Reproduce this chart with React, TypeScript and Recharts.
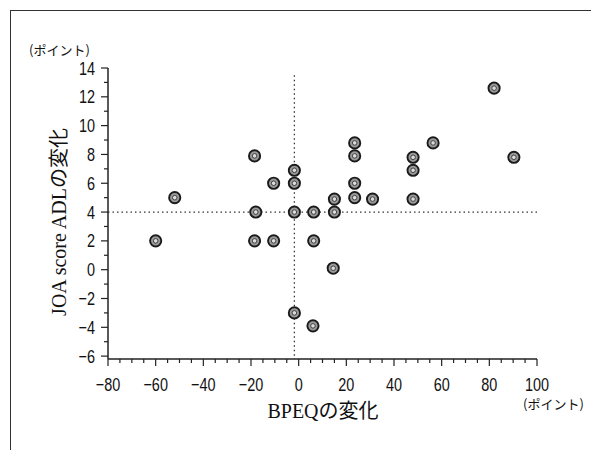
import { ScatterChart, Scatter, XAxis, YAxis, ReferenceLine } from 'recharts';

// BPEQ change (x) vs JOA score ADL change (y), one entry per patient
const bpeqChange = [
  -60, -52, -18.5, -18, -18.5, -10.5, -10.5, -1.8, -1.8, -1.8, -1.8,
  6.3, 6.3, 6, 14.5, 15, 15, 23.5, 23.5, 23.5, 23.5, 31, 48, 48, 48, 56.4, 82, 90.3,
];
const joaChange = [
  2, 5, 7.9, 4, 2, 6, 2, 6.9, 6, 4, -3,
  4, 2, -3.9, 0.1, 4, 4.9, 8.8, 7.9, 6, 5, 4.9, 7.8, 6.9, 4.9, 8.8, 12.6, 7.8,
];
const xTicks = [-80, -75, -70, -65, -60, -55, -50, -45, -40, -35, -30, -25, -20, -15, -10, -5, 0, 5, 10, 15, 20, 25, 30, 35, 40, 45, 50, 55, 60, 65, 70, 75, 80, 85, 90, 95, 100];
const yTicks = [-6, -5, -4, -3, -2, -1, 0, 1, 2, 3, 4, 5, 6, 7, 8, 9, 10, 11, 12, 13, 14];

const points = bpeqChange.map((x, i) => ({ x, y: joaChange[i] }));

const tickFont = "'Liberation Sans', Arial, sans-serif";
const fmt = (v: number) => (v < 0 ? '\u2212' + Math.abs(v) : String(v));

function XTick(props: any) {
  const { x, y, payload } = props;
  const v = payload.value;
  const major = v % 20 === 0;
  return (
    <g>
      <line x1={x} x2={x} y1={y} y2={y + (major ? 7 : 4)} stroke="#222" strokeWidth={1.2} />
      {major && (
        // narrow digits like the original, squeezed horizontally
        <text transform={`translate(${x},${y + 32}) scale(0.78,1)`} textAnchor="middle" fontSize={18.5} fontFamily={tickFont} fill="#111">
          {fmt(v)}
        </text>
      )}
    </g>
  );
}

function YTick(props: any) {
  const { x, y, payload } = props;
  const v = payload.value;
  const major = v % 2 === 0;
  return (
    <g>
      <line x1={x} x2={x - (major ? 7 : 4)} y1={y} y2={y} stroke="#222" strokeWidth={1.2} />
      {major && (
        <text transform={`translate(${x - 13},${y + 6.5}) scale(0.78,1)`} textAnchor="end" fontSize={18.5} fontFamily={tickFont} fill="#111">
          {fmt(v)}
        </text>
      )}
    </g>
  );
}

function Dot(props: any) {
  const { cx, cy } = props;
  return (
    <g>
      <circle cx={cx} cy={cy} r={5.6} fill="#9a9a9a" stroke="#1a1a1a" strokeWidth={1.9} />
      <circle cx={cx} cy={cy} r={2.3} fill="#dcdcdc" stroke="#333" strokeWidth={0.9} />
    </g>
  );
}

const unitStyle = {
  position: 'absolute' as const, fontSize: 13, lineHeight: 1, whiteSpace: 'nowrap' as const,
  fontFamily: "'Noto Sans CJK JP', sans-serif", color: '#111',
};

export default function App() {
  return (
    <div style={{ position: 'relative', width: 591, height: 442, background: '#fff' }}>
      <div
        style={{
          position: 'absolute', left: 2, top: 2, right: -8, bottom: -8,
          borderLeft: '1.5px solid #333', borderTop: '1.5px solid #333',
        }}
      />
      <ScatterChart width={591} height={442} margin={{ top: 60, right: 62, bottom: 61, left: 0 }}>
        <XAxis
          type="number" dataKey="x" domain={[-80, 100]} ticks={xTicks} interval={0}
          tickSize={0} tickMargin={0} tick={<XTick />} height={30}
          axisLine={{ stroke: '#222', strokeWidth: 1.5 }} tickLine={false}
        />
        <YAxis
          type="number" dataKey="y" domain={[-6.2, 14]} ticks={yTicks} interval={0}
          tickSize={0} tickMargin={0} tick={<YTick />} width={100}
          axisLine={{ stroke: '#222', strokeWidth: 1.5 }} tickLine={false}
        />
        <ReferenceLine y={4} stroke="#333" strokeWidth={1.3} strokeDasharray="1.5 3" />
        <ReferenceLine
          segment={[{ x: -1.8, y: 13.5 }, { x: -1.8, y: -6.2 }]}
          stroke="#333" strokeWidth={1.3} strokeDasharray="1.5 3"
        />
        <Scatter data={points} shape={<Dot />} isAnimationActive={false} />
      </ScatterChart>
      <div style={{ ...unitStyle, left: 21, top: 35 }}>(ポイント)</div>
      <div style={{ ...unitStyle, left: 515, top: 389 }}>(ポイント)</div>
      <div
        style={{
          position: 'absolute', left: 315, top: 403, transform: 'translate(-50%, -50%)',
          fontSize: 20, lineHeight: 1, whiteSpace: 'nowrap', color: '#111',
          fontFamily: "'Liberation Serif', 'Noto Sans CJK JP', serif",
        }}
      >
        BPEQの変化
      </div>
      <div
        style={{
          position: 'absolute', left: 51, top: 214, transform: 'translate(-50%, -50%) rotate(-90deg)',
          fontSize: 20, lineHeight: 1, whiteSpace: 'nowrap', color: '#111',
          fontFamily: "'Liberation Serif', 'Noto Sans CJK JP', serif",
        }}
      >
        JOA score ADLの変化
      </div>
    </div>
  );
}
